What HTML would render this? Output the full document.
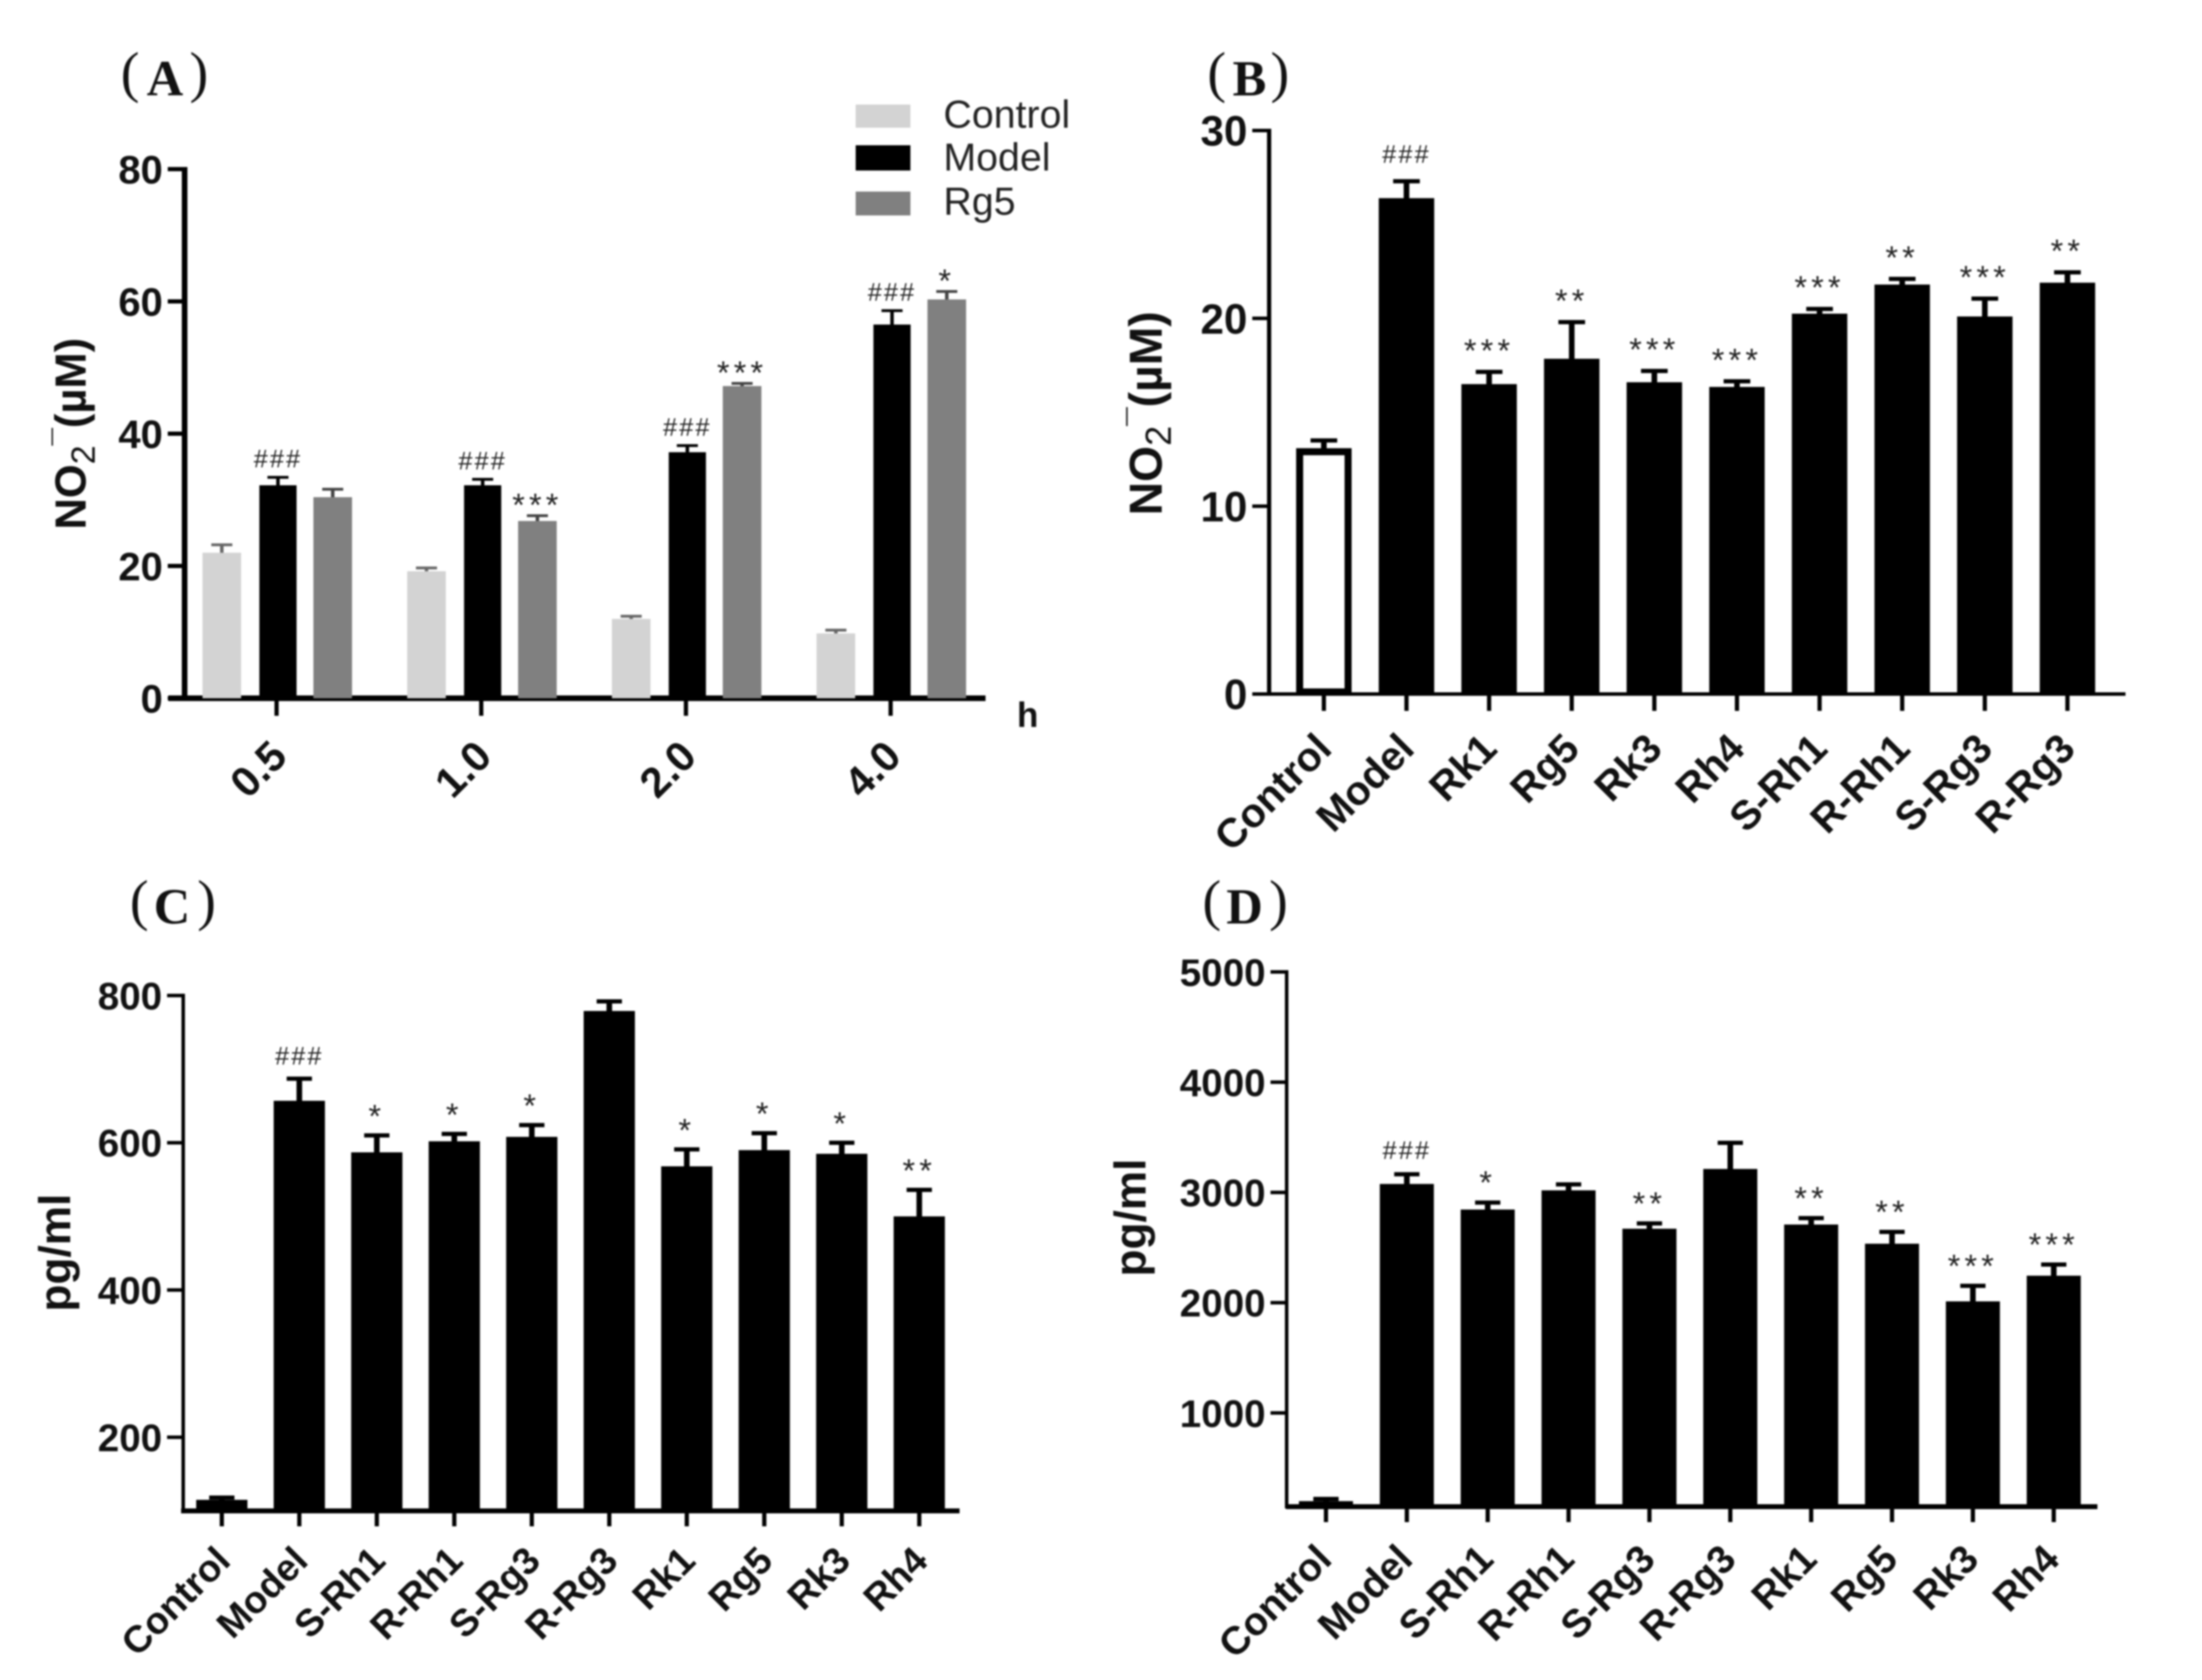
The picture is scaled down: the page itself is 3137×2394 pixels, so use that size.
<!DOCTYPE html>
<html>
<head>
<meta charset="utf-8">
<title>Nitrite and cytokine bar charts</title>
<style>
html,body{margin:0;padding:0;background:#fff;}
svg{display:block;filter:blur(1.4px);}
text{font-family:"Liberation Sans",sans-serif;}
.pl{font-family:"Liberation Serif",serif;font-size:80px;fill:#111;}
.pl .l{font-weight:bold;font-size:72px;}
.lg{font-size:56px;fill:#222;}
</style>
</head>
<body>
<svg id="figure" xmlns="http://www.w3.org/2000/svg" width="3137" height="2394" viewBox="0 0 3137 2394">
<rect width="3137" height="2394" fill="#fff"/>
<text class="pl"><tspan x="172" y="130">(</tspan><tspan class="l" x="209" y="136">A</tspan><tspan x="270" y="130">)</tspan></text>
<text class="pl"><tspan x="1720" y="130">(</tspan><tspan class="l" x="1756" y="136">B</tspan><tspan x="1810" y="130">)</tspan></text>
<text class="pl"><tspan x="185" y="1310">(</tspan><tspan class="l" x="219" y="1316">C</tspan><tspan x="281" y="1310">)</tspan></text>
<text class="pl"><tspan x="1713" y="1310">(</tspan><tspan class="l" x="1747" y="1316">D</tspan><tspan x="1808" y="1310">)</tspan></text>
<g>
<rect x="1219" y="149" width="78" height="33" fill="#d3d3d3"/>
<text class="lg" x="1344" y="182">Control</text>
<rect x="1219" y="207" width="78" height="36" fill="#000"/>
<text class="lg" x="1344" y="243">Model</text>
<rect x="1219" y="273" width="78" height="34" fill="#808080"/>
<text class="lg" x="1344" y="306">Rg5</text>
</g>
</svg>
<script>
// Panel A data
const aCategories = ['0.5', '1.0', '2.0', '4.0'];
const aTicks = [0, 20, 40, 60, 80];
const aControl = [22, 19.2, 12, 9.8];
const aControlErr = [1.2, 0.5, 0.4, 0.5];
const aControlMarks = ['', '', '', ''];
const aModel = [32.2, 32.2, 37.2, 56.5];
const aModelErr = [1.2, 0.9, 1.0, 2.1];
const aModelMarks = ['###', '###', '###', '###'];
const aRg5 = [30.4, 26.8, 47.2, 60.3];
const aRg5Err = [1.2, 0.8, 0.4, 1.2];
const aRg5Marks = ['', '***', '***', '*'];
// Panel B data
const bCategories = ['Control', 'Model', 'Rk1', 'Rg5', 'Rk3', 'Rh4', 'S-Rh1', 'R-Rh1', 'S-Rg3', 'R-Rg3'];
const bTicks = [0, 10, 20, 30];
const bValues = [13.05, 26.4, 16.5, 17.85, 16.6, 16.35, 20.25, 21.8, 20.1, 21.9];
const bErrors = [0.45, 0.9, 0.65, 1.95, 0.6, 0.3, 0.25, 0.3, 0.95, 0.55];
const bMarks = ['', '###', '***', '**', '***', '***', '***', '**', '***', '**'];
// Panel C data
const cCategories = ['Control', 'Model', 'S-Rh1', 'R-Rh1', 'S-Rg3', 'R-Rg3', 'Rk1', 'Rg5', 'Rk3', 'Rh4'];
const cTicks = [200, 400, 600, 800];
const cValues = [115, 657, 587, 602, 608, 779, 568, 590, 585, 500];
const cErrors = [3, 30, 23, 10, 16, 13, 23, 23, 15, 36];
const cMarks = ['', '###', '*', '*', '*', '', '*', '*', '*', '**'];
// Panel D data
const dCategories = ['Control', 'Model', 'S-Rh1', 'R-Rh1', 'S-Rg3', 'R-Rg3', 'Rk1', 'Rg5', 'Rk3', 'Rh4'];
const dTicks = [1000, 2000, 3000, 4000, 5000];
const dValues = [200, 3077, 2845, 3019, 2671, 3213, 2709, 2535, 2012, 2245];
const dErrors = [20, 88, 63, 54, 48, 237, 58, 107, 141, 101];
const dMarks = ['', '###', '*', '', '**', '', '**', '**', '***', '***'];

const NS = 'http://www.w3.org/2000/svg';
const root = document.getElementById('figure');

function make(tag, parent, attrs) {
  const el = document.createElementNS(NS, tag);
  for (const k in attrs) el.setAttribute(k, attrs[k]);
  parent.appendChild(el);
  return el;
}
function yScale(p, v) {
  return p.bottom - (v - p.min) / (p.max - p.min) * (p.bottom - p.top);
}
function xScale(p, i) {
  return p.x0 + i * p.step;
}

function drawAxes(p, categories, ticks) {
  const g = make('g', root, {});
  
  
  const yAxis = make('rect', g, {x: p.axisX - p.yw / 2, y: p.top - p.tickT / 2, width: p.yw, height: p.bottom - p.top + p.tickT, fill: '#000'});
  
  
  const xAxis = make('rect', g, {x: p.xStart, y: p.bottom - p.xw / 2, width: p.xEnd - p.xStart, height: p.xw, fill: '#000'});
  
  
  ticks.forEach(function (t) {
    const y = yScale(p, t);
    const tick = make('rect', g, {x: p.axisX - p.tickL, y: y - p.tickT / 2, width: p.tickL, height: p.tickT, fill: '#000'});
    
    
    const lab = make('text', g, {x: p.axisX - p.tickL - 7, y: y + p.tickFs * 0.36, 'text-anchor': 'end', 'font-size': p.tickFs, 'font-weight': 'bold', fill: '#111'});
    lab.textContent = t;
    
    
  });
  categories.forEach(function (c, i) {
    const x = xScale(p, i);
    const tick = make('rect', g, {x: x - p.xTickW / 2, y: p.bottom, width: p.xTickW, height: p.xTickL, fill: '#000'});
    
    
    const lx = x + p.labDx, ly = p.bottom + p.labDy;
    const lab = make('text', g, {x: lx, y: ly, 'text-anchor': 'end', 'font-size': p.labFs, 'font-weight': 'bold', fill: '#111', transform: 'rotate(-45 ' + lx + ' ' + ly + ')'});
    lab.textContent = c;
    
    
  });
}

function drawBar(p, parent, cx, width, value, err, mark, fill, name, hollow) {
  const top = yScale(p, value);
  const errTop = yScale(p, value + err);
  const g = make('g', parent, {});
  
  
  const stem = make('rect', g, {x: cx - p.errW / 2, y: errTop, width: p.errW, height: top - errTop + 2, fill: fill === '#d3d3d3' ? '#666' : (fill === '#808080' ? '#444' : '#000')});
  
  
  const cap = make('rect', g, {x: cx - p.capW / 2, y: errTop - p.capT / 2, width: p.capW, height: p.capT, fill: fill === '#d3d3d3' ? '#666' : (fill === '#808080' ? '#444' : '#000')});
  
  
  let bar;
  if (hollow) {
    bar = make('rect', g, {x: cx - width / 2 + 5, y: top + 4, width: width - 10, height: p.bottom - top - 7, fill: '#fff', stroke: '#000', 'stroke-width': 10});
  } else {
    bar = make('rect', g, {x: cx - width / 2, y: top, width: width, height: p.bottom - top, fill: fill});
  }
  
  
  if (mark) {
    const isHash = mark.charAt(0) === '#';
    const fs = isHash ? 36 : 46;
    const gap = isHash ? p.hashGap : p.starGap;
    const base = errTop - gap + (isHash ? 0.36 : 0.575) * fs;
    const t = make('text', g, {x: cx, y: base, 'text-anchor': 'middle', 'font-size': fs, 'letter-spacing': isHash ? 3 : 6, fill: '#222'});
    t.textContent = mark;
    
    
  }
}

function drawTitle(p, x, y, parts) {
  const t = make('text', root, {x: x, y: y, 'text-anchor': 'middle', 'font-size': p.titleFs, 'font-weight': 'bold', fill: '#111', transform: 'rotate(-90 ' + x + ' ' + y + ')'});
  
  
  parts.forEach(function (s) {
    const span = make('tspan', t, {});
    span.textContent = s.text;
    if (s.dy) span.setAttribute('dy', s.dy);
    if (s.size) span.setAttribute('font-size', s.size);
    if (s.weight) span.setAttribute('font-weight', s.weight);
  });
}

function no2Parts(fs) {
  return [
    {text: 'NO'},
    {text: '2', dy: 13, size: fs * 0.78, weight: 'normal'},
    {text: '¯', dy: -28, size: fs * 0.72, weight: 'normal'},
    {text: '(µM)', dy: 15}
  ];
}

const panelA = {id: 'a', top: 241, bottom: 995, min: 0, max: 80, axisX: 263, yw: 8, xw: 8, xStart: 240, xEnd: 1404, x0: 394, step: 291.6, tickL: 24, tickT: 6, tickFs: 57, xTickW: 6, xTickL: 25, labDx: 18, labDy: 86, labFs: 60, errW: 5, capW: 30, capT: 4, hashGap: 27, starGap: 26, titleFs: 62};
const panelB = {id: 'b', top: 186, bottom: 989, min: 0, max: 30, axisX: 1808, yw: 6, xw: 5, xStart: 1785, xEnd: 3028, x0: 1886, step: 117.7, tickL: 24, tickT: 5, tickFs: 60, xTickW: 6, xTickL: 24, labDx: 14, labDy: 81, labFs: 58, errW: 8, capW: 38, capT: 6, hashGap: 39, starGap: 41, titleFs: 66};
const panelC = {id: 'c', top: 1418.6, bottom: 2153, min: 100, max: 800, axisX: 261, yw: 5, xw: 7, xStart: 258, xEnd: 1367, x0: 316, step: 110.4, tickL: 23, tickT: 5, tickFs: 55, xTickW: 6, xTickL: 22, labDx: 15, labDy: 74, labFs: 54, errW: 8, capW: 36, capT: 6, hashGap: 33, starGap: 38, titleFs: 63};
const panelD = {id: 'd', top: 1385, bottom: 2147, min: 150, max: 5000, axisX: 1833, yw: 5, xw: 7, xStart: 1832, xEnd: 2988, x0: 1889, step: 115.2, tickL: 23, tickT: 5, tickFs: 55, xTickW: 6, xTickL: 22, labDx: 11, labDy: 78, labFs: 56, errW: 8, capW: 36, capT: 6, hashGap: 35, starGap: 39, titleFs: 63};

// Panel A: grouped bars
drawAxes(panelA, aCategories, aTicks);
const aBars = make('g', root, {});


aCategories.forEach(function (c, i) {
  const cx = xScale(panelA, i);
  drawBar(panelA, aBars, cx - 78, 55, aControl[i], aControlErr[i], aControlMarks[i], '#d3d3d3', 'bar-control-' + c, false);
  drawBar(panelA, aBars, cx + 2, 53, aModel[i], aModelErr[i], aModelMarks[i], '#000', 'bar-model-' + c, false);
  drawBar(panelA, aBars, cx + 80, 55, aRg5[i], aRg5Err[i], aRg5Marks[i], '#808080', 'bar-rg5-' + c, false);
});
drawTitle(panelA, 122, 618, no2Parts(panelA.titleFs));
const hLabel = make('text', root, {x: 1464, y: 1036, 'text-anchor': 'middle', 'font-size': 50, 'font-weight': 'bold', fill: '#111'});
hLabel.textContent = 'h';



// Panels B, C, D: single series bars
function drawSimple(p, categories, ticks, values, errors, marks, width) {
  drawAxes(p, categories, ticks);
  const g = make('g', root, {});
  
  
  categories.forEach(function (c, i) {
    const hollow = p.id === 'b' && c === 'Control';
    drawBar(p, g, xScale(p, i), width, values[i], errors[i], marks[i], '#000', 'bar-' + c, hollow);
  });
}
drawSimple(panelB, bCategories, bTicks, bValues, bErrors, bMarks, 79);
drawTitle(panelB, 1655, 589, no2Parts(panelB.titleFs));
drawSimple(panelC, cCategories, cTicks, cValues, cErrors, cMarks, 73);
drawTitle(panelC, 100, 1785, [{text: 'pg/ml'}]);
drawSimple(panelD, dCategories, dTicks, dValues, dErrors, dMarks, 77);
drawTitle(panelD, 1632, 1735, [{text: 'pg/ml'}]);
</script>
</body>
</html>
